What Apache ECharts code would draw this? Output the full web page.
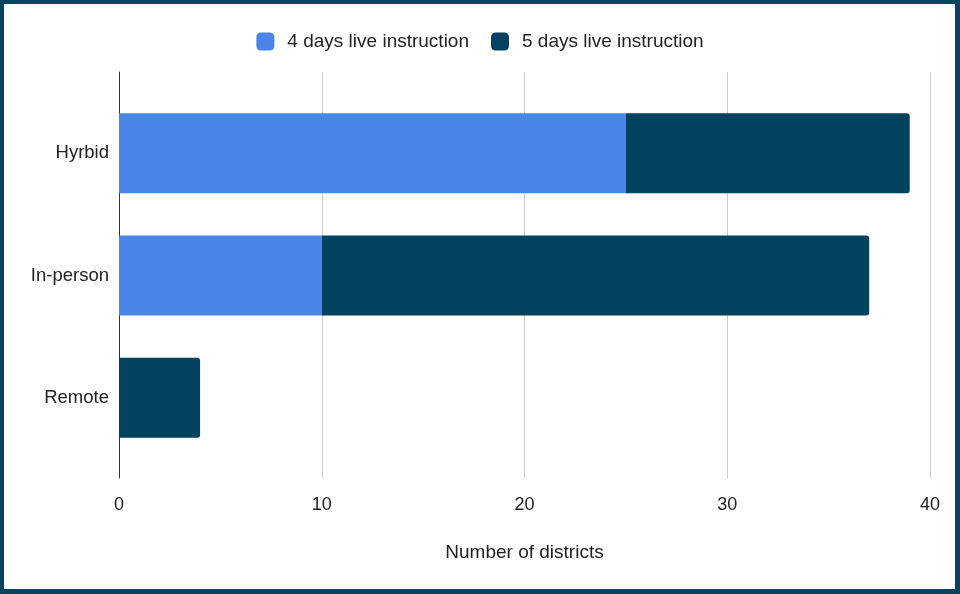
<!DOCTYPE html>
<html><head><meta charset="utf-8">
<script src="https://cdn.jsdelivr.net/npm/echarts@6/dist/echarts.min.js"></script>
<style>
html,body{margin:0;padding:0;background:#fff;}
#wrap{position:relative;width:960px;height:594px;}
#c{width:960px;height:594px;}
#frame{position:absolute;left:0;top:0;width:960px;height:594px;box-sizing:border-box;border:4px solid #06435f;border-right-width:5px;border-bottom-width:5px;pointer-events:none;}
</style></head>
<body><div id="wrap"><div id="c"></div><div id="frame"></div></div>
<script>
const categories = ['Hyrbid', 'In-person', 'Remote'];
const fourDays = [25, 10, 0];
const fiveDays = [14, 27, 4];
const seriesNames = ['4 days live instruction', '5 days live instruction'];
const xTicks = [0, 10, 20, 30, 40];

const font = 'Arial, "Liberation Sans", sans-serif';
const chart = echarts.init(document.getElementById('c'));
chart.setOption({
  animation: false,
  textStyle: {fontFamily: font},
  legend: {
    top: 27, left: 'center',
    itemWidth: 18, itemHeight: 18, itemGap: 22,
    icon: 'roundRect',
    textStyle: {fontSize: 19, color: '#222', fontFamily: font, padding: [0, 0, 0, 8]},
    data: seriesNames
  },
  grid: [
    {left: 119, right: 30, top: 72, bottom: 116},
    {left: 119, right: 30, top: 92, bottom: 135}
  ],
  xAxis: [
    {gridIndex: 0, type: 'value', min: xTicks[0], max: xTicks[xTicks.length-1], interval: 10,
     axisLine: {show: false}, axisTick: {show: false},
     splitLine: {show: true, lineStyle: {color: '#cccccc', width: 1}},
     axisLabel: {fontSize: 18, color: '#222', margin: 18, fontFamily: font},
     name: 'Number of districts', nameLocation: 'middle', nameGap: 65,
     nameTextStyle: {fontSize: 19, color: '#222', fontFamily: font}},
    {gridIndex: 1, type: 'value', min: xTicks[0], max: xTicks[xTicks.length-1], interval: 10,
     show: false}
  ],
  yAxis: [
    {gridIndex: 0, type: 'value', min: 0, max: 1, show: true,
     axisLine: {show: true, lineStyle: {color: '#333', width: 1}},
     axisTick: {show: false}, axisLabel: {show: false}, splitLine: {show: false}},
    {gridIndex: 1, type: 'category', data: categories, inverse: true,
     axisLine: {show: false}, axisTick: {show: false},
     axisLabel: {fontSize: 18.5, color: '#222', margin: 10, fontFamily: font}}
  ],
  series: [
    {name: seriesNames[0], type: 'bar', stack: 'total', xAxisIndex: 1, yAxisIndex: 1,
     barWidth: 80, data: fourDays,
     itemStyle: {color: '#4a86e8'}},
    {name: seriesNames[1], type: 'bar', stack: 'total', xAxisIndex: 1, yAxisIndex: 1,
     barWidth: 80, data: fiveDays,
     itemStyle: {color: '#03425f', borderRadius: [0, 3, 3, 0]}}
  ]
});
</script></body></html>
